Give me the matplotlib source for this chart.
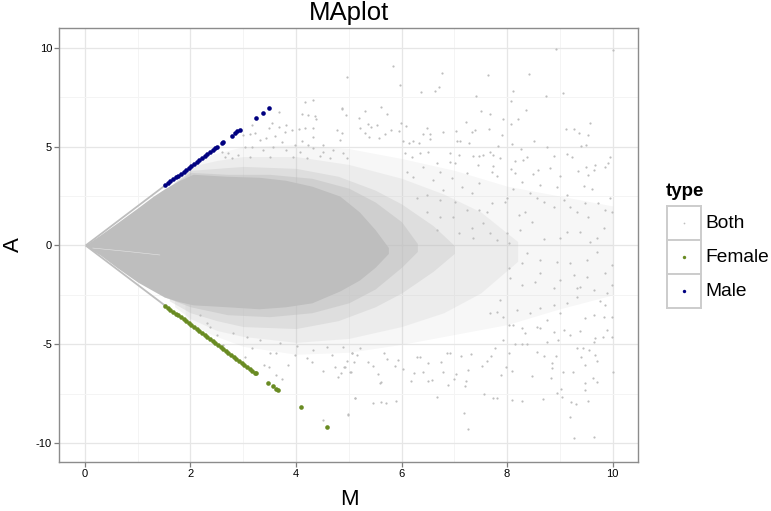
import matplotlib
matplotlib.use('Agg')
import matplotlib.pyplot as plt
import numpy as np

plt.rcParams['font.family'] = ['Liberation Sans', 'DejaVu Sans']
plt.rcParams['axes.unicode_minus'] = False

GREY = '#BEBEBE'
OLIVE = '#698B22'
NAVY = '#000080'

core_m = [0, 0.3, 0.6, 1, 1.3, 1.5, 1.8, 2.05, 2.7, 3.3, 3.8, 4.3, 4.83, 5.2, 5.5, 5.75]
core_up = [0, 0.55, 1.12, 1.9, 2.5, 2.85, 3.3, 3.6, 3.5, 3.45, 3.3, 3.0, 2.5, 1.7, 0.8, -0.1]
core_low = [0, -0.5, -1.1, -1.85, -2.3, -2.6, -2.85, -3.0, -3.1, -3.2, -3.1, -2.9, -2.3, -1.75, -1.1, -0.4]

# fringes around it, where the points thin out (outer to inner)
fringe1_m = [1.9, 2.4, 3, 4, 5, 6, 7, 8, 9, 10]
fringe1_up = [3.9, 4.6, 5.0, 5.1, 4.9, 4.4, 3.8, 3.0, 2.5, 2.0]
fringe1_low = [-3.8, -4.5, -5.1, -5.5, -5.4, -5.0, -4.5, -4.0, -3.2, -2.5]

fringe2_m = [1.7, 2, 2.5, 3, 4, 5, 6, 6.8, 7.5, 8.2]
fringe2_up = [3.2, 4.0, 4.3, 4.5, 4.5, 4.1, 3.4, 2.6, 1.7, 0.2]
fringe2_low = [-3.1, -3.7, -4.3, -4.6, -4.9, -4.7, -4.1, -3.4, -2.4, -0.8]

fringe3_m = [1.6, 2, 2.5, 3, 4, 4.8, 5.5, 6, 6.6, 7]
fringe3_up = [3.0, 3.8, 3.9, 4.0, 3.9, 3.5, 2.8, 2.1, 1.0, 0.0]
fringe3_low = [-2.8, -3.4, -3.8, -4.1, -4.2, -3.8, -3.1, -2.4, -1.3, -0.4]

fringe4_m = [1.5, 2, 2.7, 3.5, 4.3, 5, 5.5, 6, 6.3]
fringe4_up = [2.8, 3.7, 3.6, 3.6, 3.4, 2.9, 2.2, 1.2, 0.1]
fringe4_low = [-2.6, -3.1, -3.5, -3.6, -3.4, -2.9, -2.2, -1.1, -0.3]

# edges of the wedge from the origin
edge_m = [0.03, 1.5]
edge_a = [0.03, 3.0]

# faint streak inside the cloud
streak_m = [0.15, 0.8, 1.42]
streak_a = [-0.13, -0.3, -0.48]

# single Both points that can be told apart
both_sparse = [
    (8.93, 9.94), (10.0, 9.89), (5.83, 9.08), (4.96, 8.54), (6.77, 8.74), (7.63, 8.64), (8.42, 8.66),
    (5.98, 8.12), (6.37, 7.78), (6.64, 7.83), (6.71, 8.03), (7.41, 7.56), (8.11, 7.82), (8.07, 7.33),
    (8.73, 7.56), (9.06, 7.73), (4.87, 6.92), (5.3, 6.79), (5.61, 7.02), (4.95, 6.58), (5.72, 6.67),
    (5.19, 6.45), (7.51, 6.8), (7.68, 6.65), (8.35, 6.84), (7.93, 6.4), (8.21, 6.4), (7.22, 6.26),
    (8.08, 6.13), (9.58, 6.2), (5.99, 6.21), (6.09, 6.04), (5.37, 6.14), (5.53, 6.09), (5.42, 5.98),
    (5.21, 5.93), (6.48, 5.94), (7.39, 5.84), (7.33, 5.76), (7.66, 5.89), (9.11, 5.89), (9.26, 5.89),
    (9.37, 5.71), (9.54, 5.57), (6.79, 5.74), (7.04, 5.79), (7.9, 5.59), (5.8, 5.86), (5.96, 5.81),
    (5.69, 5.64), (5.58, 5.42), (5.31, 5.67), (5.39, 5.47), (6.4, 5.64), (6.53, 5.64), (6.54, 5.37),
    (7.05, 5.29), (7.1, 5.29), (6.03, 5.3), (6.22, 5.3), (6.14, 5.2), (6.33, 5.17), (8.51, 5.3),
    (8.09, 5.13), (7.82, 5.05), (7.28, 5.17), (9.4, 5.03), (9.5, 5.07), (8.75, 4.97), (8.27, 4.88),
    (7.36, 4.53), (7.46, 4.53), (7.55, 4.58), (7.68, 4.75), (7.74, 4.58), (7.87, 4.44), (7.44, 4.07),
    (7.73, 4.02), (7.71, 3.73), (7.8, 3.53), (8.15, 4.29), (8.37, 4.49), (8.31, 4.32), (8.88, 4.54),
    (9.13, 4.63), (9.23, 4.49), (9.95, 4.46), (9.92, 4.19), (9.86, 3.95), (9.67, 4.07), (9.5, 3.99),
    (9.35, 3.79), (9.54, 3.57), (9.64, 3.82), (8.82, 3.9), (8.59, 3.82), (8.49, 3.62), (8.28, 3.23),
    (8.07, 3.85), (8.15, 3.65), (9.0, 3.53), (8.94, 2.94), (8.63, 3.06), (8.44, 2.67), (8.12, 2.84),
    (7.96, 2.22), (7.99, 2.39), (9.45, 3.03), (9.61, 2.86), (9.95, 2.42), (9.13, 2.55), (9.48, 2.17),
    (9.73, 2.13), (9.86, 1.8), (9.98, 1.69), (9.54, 1.46), (9.32, 1.71), (9.07, 2.3), (9.2, 1.96),
    (8.88, 1.96), (8.69, 2.22), (8.56, 2.39), (8.34, 1.71), (8.22, 1.54), (8.47, 1.21), (9.13, 0.7),
    (9.39, 0.67), (9.83, 0.87), (9.7, 0.36), (9.57, 0.19), (9.0, 0.36), (8.69, 0.31), (8.25, 0.78),
    (7.99, 0.62), (8.03, 0.11), (7.8, 0.28), (7.61, 1.71), (7.71, 2.13), (7.46, 1.8), (7.24, 1.8),
    (7.01, 2.22), (6.79, 2.81), (7.01, 4.16), (6.92, 4.24), (7.08, 4.58), (6.92, 4.66), (6.67, 4.16),
    (6.51, 4.75), (6.07, 4.66), (6.19, 4.49), (6.35, 4.66), (6.41, 3.99), (6.73, 3.73), (6.6, 3.31),
    (6.22, 3.48), (6.1, 3.73), (7.24, 3.65), (7.46, 3.14), (7.14, 2.98), (6.95, 3.4), (7.33, 2.64),
    (6.73, 2.3), (6.48, 2.55), (6.29, 2.39), (6.98, 1.46), (7.33, 0.87), (7.55, 1.12), (6.73, 1.46),
    (6.48, 1.71), (7.08, 0.62), (6.67, 0.78), (7.36, 0.36), (7.68, 0.62),
    (9.26, -9.72), (9.64, -9.7), (9.19, -8.69), (7.25, -9.3), (7.19, -8.46), (4.99, -8.56), (5.45, -7.95),
    (5.61, -7.93), (5.7, -7.95), (5.89, -7.85), (5.11, -7.7), (6.67, -7.65), (7.56, -7.51), (7.74, -7.73),
    (7.8, -7.73), (8.09, -7.81), (8.28, -7.85), (8.68, -7.76), (9.21, -7.9), (9.3, -8.02), (9.54, -7.85),
    (8.94, -7.48), (9.02, -7.26), (9.04, -7.68), (9.47, -7.31), (9.48, -6.97), (9.62, -6.69), (9.7, -6.89),
    (8.83, -6.72), (8.47, -6.58), (7.89, -6.55), (8.1, -6.33), (7.98, -6.16), (7.52, -6.1), (7.25, -6.3),
    (7.2, -7.11), (7.22, -6.84), (7.0, -6.77), (6.88, -7.06), (6.57, -6.8), (6.5, -6.84), (6.17, -6.84),
    (6.24, -6.47), (6.4, -6.38), (6.78, -6.41), (7.03, -6.52), (6.02, -6.26), (5.88, -6.1), (5.94, -5.79),
    (5.59, -6.94), (5.62, -6.89), (5.55, -6.52), (5.04, -6.4), (4.91, -6.16), (4.85, -6.47), (5.45, -6.08),
    (5.37, -5.88), (5.09, -5.88), (4.97, -5.83), (5.73, -5.74), (5.66, -5.45), (5.21, -5.2), (5.06, -5.45),
    (6.29, -5.66), (6.35, -5.66), (6.51, -5.96), (6.75, -5.88), (6.87, -5.45), (6.92, -5.42), (7.12, -5.59),
    (7.31, -5.51), (7.69, -5.59), (7.61, -5.83), (8.04, -5.45), (8.56, -5.4), (8.7, -5.57), (8.92, -5.57),
    (8.85, -5.96), (8.86, -6.21), (9.06, -6.41), (9.24, -6.41), (9.4, -5.66), (9.47, -6.04), (9.7, -5.84),
    (9.67, -5.54), (10.0, -6.41), (9.32, -5.2), (9.43, -5.2), (9.55, -5.29), (9.99, -4.65), (9.67, -4.7),
    (9.82, -4.65), (9.89, -4.27), (9.64, -4.86), (8.28, -4.98), (8.37, -5.0), (8.15, -5.0), (7.77, -5.2),
    (7.93, -4.78), (8.03, -4.02), (8.12, -4.02), (8.28, -4.19), (8.56, -4.11), (8.63, -4.19), (8.34, -4.44),
    (8.75, -4.86), (8.88, -4.36), (9.07, -4.27), (9.39, -4.31), (9.2, -4.53), (8.97, -4.78), (9.48, -3.68),
    (9.64, -3.52), (9.83, -3.63), (9.99, -3.6), (9.76, -2.79), (9.86, -3.01), (9.32, -2.59), (9.13, -2.93),
    (8.88, -3.01), (8.63, -3.18), (8.44, -3.43), (8.18, -3.26), (9.0, -3.43), (8.75, -3.77), (9.39, -2.08),
    (9.32, -2.17), (9.51, -1.58), (9.64, -2.25), (9.89, -2.42), (9.98, -2.0), (9.98, -0.99), (9.86, -1.41),
    (9.7, -0.31), (9.51, -0.73), (9.26, -1.49), (9.0, -1.75), (8.88, -2.17), (8.63, -1.41), (8.53, -1.83),
    (8.28, -2.0), (8.06, -1.66), (8.03, -1.15), (8.28, -0.9), (8.94, -0.82), (9.2, -0.9), (8.63, -0.73),
    (8.37, -0.4), (7.87, -2.76), (7.8, -3.35), (7.93, -3.6), (7.68, -3.43),
    (4.18, 7.27), (4.32, 7.36), (4.87, 6.94), (3.68, 6.74), (4.11, 6.65), (4.22, 6.6), (4.36, 6.55),
    (4.38, 6.38), (3.54, 6.18), (3.48, 5.93), (3.67, 5.98), (3.82, 6.09), (3.79, 5.76), (3.92, 5.84),
    (4.06, 5.88), (4.17, 5.93), (4.33, 5.93), (3.16, 6.09), (3.13, 5.62), (3.0, 5.59), (3.22, 5.67),
    (3.32, 5.34), (3.44, 5.42), (3.6, 5.54), (3.73, 5.25), (4.11, 5.3), (4.33, 5.47), (4.52, 5.08),
    (4.77, 5.84), (4.87, 5.67), (4.83, 5.34), (3.98, 5.08), (4.23, 5.08), (3.03, 5.0), (3.16, 4.97),
    (3.38, 4.83), (3.57, 5.0), (3.82, 4.83), (4.08, 4.75), (4.33, 4.91), (4.52, 4.75), (4.71, 4.83),
    (4.9, 4.66), (2.72, 4.66), (2.59, 4.75), (2.91, 4.58), (3.13, 4.49), (2.78, 4.41), (2.65, 4.49),
    (3.51, 4.49), (3.95, 4.49), (4.2, 4.41), (4.46, 4.53), (4.65, 4.41), (4.96, 4.41),
    (4.51, -8.83), (5.12, -7.7), (4.99, -8.54), (3.73, -6.77), (3.63, -6.55), (3.84, -6.04), (3.48, -6.13),
    (3.39, -6.04), (4.52, -6.33), (4.73, -6.16), (4.79, -6.63), (4.93, -6.16), (5.02, -6.38), (4.2, -5.71),
    (4.3, -5.88), (4.68, -5.54), (5.06, -5.45), (3.98, -5.54), (3.63, -5.45), (3.51, -5.45), (3.03, -5.66),
    (3.16, -5.2), (2.62, -5.03), (2.5, -4.53), (2.81, -4.44), (3.07, -4.61), (3.32, -4.78), (3.7, -4.95),
    (4.01, -5.08), (4.33, -5.29), (4.58, -5.12), (4.9, -5.12), (5.15, -5.54), (2.31, -3.94), (2.37, -4.14),
    (2.18, -3.52),
]

female_m = [1.52, 1.57, 1.62, 1.67, 1.72, 1.77, 1.82, 1.87, 1.92, 1.97, 2.02, 2.07, 2.12, 2.17, 2.22, 2.27,
            2.32, 2.37, 2.42, 2.47, 2.52, 2.57, 2.62, 2.67, 2.72, 2.77, 2.82, 2.87, 2.92, 2.97, 3.02, 3.07,
            3.12, 3.17, 3.22, 3.24, 3.47, 3.56, 3.63, 3.66, 4.09, 4.58]
female_a = [-3.04, -3.14, -3.24, -3.34, -3.44, -3.54, -3.64, -3.74, -3.84, -3.94, -4.04, -4.14, -4.24, -4.34,
            -4.44, -4.54, -4.64, -4.74, -4.84, -4.94, -5.04, -5.14, -5.24, -5.34, -5.44, -5.54, -5.64, -5.74,
            -5.84, -5.94, -6.04, -6.14, -6.24, -6.34, -6.44, -6.47, -6.94, -7.11, -7.27, -7.33, -8.17, -9.17]

male_m = [1.52, 1.57, 1.62, 1.67, 1.72, 1.77, 1.82, 1.87, 1.92, 1.97, 2.02, 2.07, 2.12, 2.17, 2.22, 2.27,
          2.32, 2.37, 2.42, 2.47, 2.51, 2.6, 2.62, 2.78, 2.84, 2.89, 2.93, 3.24, 3.37, 3.48]
male_a = [3.04, 3.14, 3.24, 3.34, 3.44, 3.54, 3.64, 3.74, 3.84, 3.94, 4.04, 4.14, 4.24, 4.34, 4.44, 4.54,
          4.64, 4.74, 4.84, 4.94, 5.0, 5.2, 5.24, 5.55, 5.67, 5.77, 5.84, 6.46, 6.72, 6.94]

x_major = [0, 2, 4, 6, 8, 10]
x_minor = [1, 3, 5, 7, 9]
y_major = [-10, -5, 0, 5, 10]
y_minor = [-7.5, -2.5, 2.5, 7.5]
legend_labels = ['Both', 'Female', 'Male']
legend_colors = [GREY, OLIVE, NAVY]
legend_sizes = [1.5, 6, 6]

W, H = 771, 511
fig = plt.figure(figsize=(W / 100, H / 100), dpi=100)
ax = fig.add_axes([59 / W, 1 - 462 / H, (638 - 59) / W, (462 - 28) / H])

# cloud, densest layer last
ax.fill_between(fringe1_m, fringe1_low, fringe1_up, color=GREY, alpha=0.12, lw=0, zorder=2)
ax.fill_between(fringe2_m, fringe2_low, fringe2_up, color=GREY, alpha=0.18, lw=0, zorder=2.05)
ax.fill_between(fringe3_m, fringe3_low, fringe3_up, color=GREY, alpha=0.30, lw=0, zorder=2.1)
ax.fill_between(fringe4_m, fringe4_low, fringe4_up, color=GREY, alpha=0.45, lw=0, zorder=2.15)
ax.fill_between(core_m, core_low, core_up, color=GREY, lw=0, zorder=2.2)
ax.plot(edge_m, edge_a, color=GREY, lw=1.3, zorder=2.3)
ax.plot(edge_m, [-a for a in edge_a], color=GREY, lw=1.3, zorder=2.3)
ax.plot(streak_m, streak_a, color='white', lw=0.4, alpha=0.6, zorder=2.4)

sparse = np.array(both_sparse)
ax.scatter(sparse[:, 0], sparse[:, 1], s=2.5, color=GREY, linewidths=0, zorder=3)
ax.scatter(female_m, female_a, s=11, color=OLIVE, linewidths=0, zorder=4)
ax.scatter(male_m, male_a, s=11, color=NAVY, linewidths=0, zorder=4)

ax.set_xlim(-0.49, 10.48)
ax.set_ylim(-10.95, 11.0)
ax.set_xticks(x_major)
ax.set_xticks(x_minor, minor=True)
ax.set_yticks(y_major)
ax.set_yticks(y_minor, minor=True)
ax.grid(which='major', color='#E6E6E6', lw=0.9)
ax.grid(which='minor', color='#F4F4F4', lw=0.7)
ax.set_axisbelow(True)
ax.tick_params(which='major', length=3.5, width=0.9, color='#7F7F7F', labelsize=8, pad=1.5)
ax.tick_params(which='minor', length=0)
for spine in ax.spines.values():
    spine.set_color('#8C8C8C')
    spine.set_linewidth(1.0)

fig.text(349 / W, 1 - 13 / H, 'MAplot', fontsize=18.5, ha='center', va='center')
fig.text(349 / W, 1 - 499 / H, 'M', fontsize=16, ha='center', va='center')
fig.text(13 / W, 1 - 245 / H, 'A', fontsize=16, rotation=90, ha='center', va='center')

# legend cells
fig.text(666 / W, 1 - 191 / H, 'type', fontsize=13.5, fontweight='bold', ha='left', va='center')
key_left, key_size, key_top = 667, 34, 206
for i, label in enumerate(legend_labels):
    top = key_top + i * key_size
    key = fig.add_axes([key_left / W, 1 - (top + key_size) / H, key_size / W, key_size / H])
    key.scatter([0.5], [0.5], s=legend_sizes[i], color=legend_colors[i], linewidths=0)
    key.set_xlim(0, 1)
    key.set_ylim(0, 1)
    key.set_xticks([])
    key.set_yticks([])
    for spine in key.spines.values():
        spine.set_color('#CCCCCC')
        spine.set_linewidth(1.4)
    fig.text(705 / W, 1 - (top + key_size / 2) / H, label, fontsize=13.8, ha='left', va='center')

fig.savefig('out.png', dpi=100)
